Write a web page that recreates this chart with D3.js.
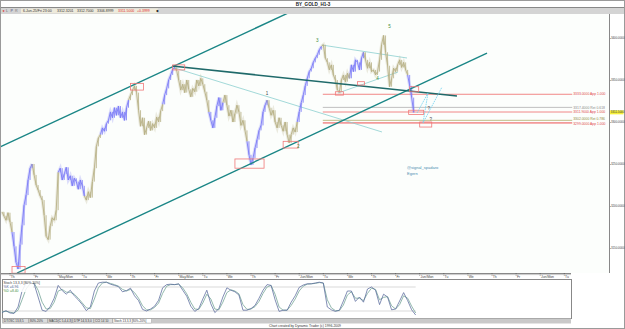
<!DOCTYPE html>
<html>
<head>
<meta charset="utf-8">
<script src="https://cdn.jsdelivr.net/npm/d3@7"></script>
<style>
  body { margin: 0; background: #fff; }
  svg { display: block; font-family: "Liberation Sans", "DejaVu Sans", sans-serif; }
</style>
</head>
<body>
<div id="container"></div>
<script>
const WIDTH = 625, HEIGHT = 329;
const PLOT = { left: 1, right: 609, top: 14, bottom: 273 };
const STOCH = { left: 2, right: 571, top: 279, bottom: 319 };

// trading days counted from Thu 15 May 2025, one price every 2 hours
const FIRST_BAR_DAY = -0.3125, BAR_STEP = 1 / 12;

const dayLabels = ["Th", "Fr", "May/Mon", "Tu", "We", "Th", "Fr", "May/Mon", "Tu", "We", "Th", "Fr",
  "Jun/Mon", "Tu", "We", "Th", "Fr", "Jun/Mon", "Tu", "We", "Th", "Fr", "Jun/Mon", "Tu"];
const priceTicks = [3150, 3200, 3250, 3300, 3350, 3400];

const closes = [
  3193, 3188, 3183, 3192, 3181, 3169, 3152, 3133, 3125, 3154,
  3177, 3201, 3213, 3231, 3245, 3250, 3237, 3225, 3219, 3212,
  3207, 3189, 3164, 3160, 3176, 3186, 3183, 3195, 3240, 3245,
  3231, 3238, 3246, 3231, 3236, 3224, 3233, 3229, 3220, 3231,
  3224, 3212, 3207, 3217, 3210, 3229, 3245, 3271, 3281, 3285,
  3293, 3289, 3298, 3302, 3312, 3305, 3317, 3308, 3319, 3305,
  3312, 3302, 3317, 3326, 3332, 3338, 3343, 3335, 3314, 3295,
  3305, 3285, 3293, 3301, 3290, 3298, 3293, 3306, 3300, 3313,
  3321, 3332, 3340, 3350, 3356, 3363, 3365, 3361, 3350, 3338,
  3345, 3335, 3350, 3339, 3330, 3340, 3336, 3350, 3343, 3352,
  3345, 3336, 3326, 3312, 3302, 3293, 3305, 3319, 3329, 3314,
  3323, 3332, 3320, 3307, 3314, 3300, 3310, 3320, 3312, 3296,
  3302, 3290, 3277, 3261, 3249, 3257, 3269, 3279, 3290, 3296,
  3312, 3320, 3326, 3317, 3308, 3314, 3300, 3293, 3305, 3296,
  3289, 3300, 3285, 3275, 3285, 3293, 3288, 3300, 3312, 3323,
  3332, 3343, 3352, 3360, 3364, 3371, 3376, 3380, 3386, 3390,
  3392, 3376, 3371, 3362, 3368, 3356, 3350, 3338, 3336, 3350,
  3356, 3348, 3358, 3352, 3368, 3360, 3374, 3371, 3362, 3376,
  3383, 3374, 3364, 3371, 3360, 3362, 3356, 3360, 3374, 3392,
  3403, 3383, 3367, 3342, 3352, 3364, 3360, 3368, 3374, 3365,
  3371, 3362, 3356, 3343, 3329, 3311.5
];

// bar indexes where the wave colour switches (tan, blue, tan, ...)
const waveBreaks = [0, 5, 15, 28, 41, 49, 63, 80, 86, 103, 110, 122, 132, 147, 159, 173, 180, 202, 205];
const waveColors = ["#b8b186", "#7c7cf6"];

// stochastic 13,3,3 : one value every 2 bars
const stochK = [
  16, 21, 15, 14, 30, 70, 90, 92, 88, 55, 22, 19, 31, 52, 84, 71, 62, 72, 58, 48,
  36, 21, 30, 70, 90, 92, 92, 87, 84, 81, 68, 71, 77, 58, 46, 24, 20, 25, 32, 47,
  78, 86, 87, 86, 88, 72, 57, 32, 19, 26, 50, 72, 38, 16, 26, 55, 78, 72, 68, 60,
  22, 22, 26, 34, 52, 72, 86, 84, 48, 19, 22, 22, 42, 58, 79, 85, 88, 88, 90, 92,
  90, 30, 23, 19, 22, 45, 70, 70, 44, 55, 42, 75, 80, 72, 36, 62, 55, 23, 25, 45,
  66, 46, 23, 10
];
const stochD = [
  18, 19, 17, 15, 22, 48, 75, 88, 90, 72, 42, 25, 26, 42, 70, 74, 67, 67, 62, 52,
  40, 28, 26, 50, 78, 90, 92, 89, 86, 82, 74, 70, 74, 66, 52, 33, 23, 23, 29, 40,
  64, 82, 86, 86, 87, 78, 63, 42, 25, 24, 40, 62, 50, 25, 23, 42, 66, 73, 70, 63,
  36, 24, 25, 31, 44, 64, 80, 84, 62, 30, 22, 22, 34, 50, 70, 82, 87, 88, 89, 91,
  90, 48, 28, 21, 21, 35, 60, 68, 52, 52, 46, 64, 77, 74, 48, 54, 56, 33, 25, 36,
  58, 52, 32, 15
];
const stochLevels = [80, 20];
const stochReadout = [6.96, 8.40];

// trend lines: [day0, price0, day1, price1]
const channelLines = [[-0.394, 3270.2, 11.556, 3429.7], [0.311, 3120.2, 19.813, 3382.1]];
const baseLine = [6.743, 3366.6, 18.568, 3330.9];
const thinLines = [[6.867, 3364.2, 15.456, 3288.1], [12.967, 3391.6, 16.494, 3376.2], [13.631, 3334.5, 16.12, 3359.5]];
const projection = [[16.909, 3310.7], [17.365, 3334.5], [17.158, 3298.8], [17.946, 3341.6]];

// price boxes: [bar0, bar1, low, high]
const boxes = [
  [5, 11.5, 3120, 3128], [64, 70.5, 3338, 3346], [85, 91, 3362, 3368], [116, 130.5, 3245, 3256],
  [140, 147.5, 3269, 3277], [166, 170, 3332, 3336], [177, 180.5, 3344, 3348], [203, 207.5, 3336, 3342],
  [202.5, 210, 3309, 3314], [208, 214, 3294, 3300]
];

const waveNames = ["1", "2", "3", "4", "5", "?", "?"];
const waveNameBars = [132, 147.5, 157, 187, 193, 212.5, 213.5];
const waveNamePrices = [3332, 3269, 3395, 3350, 3412, 3314, 3301];

const levelPrices = [3333.0, 3317.4, 3311.9, 3302.0, 3299.0];
const levelNotes = ["App 1.000", "Ret 0.618", "App 1.000", "Ret 0.786", "App 1.000"];
const levelKinds = ["app", "ret", "app", "ret2", "app2"];
const LEVEL_START_DAY = 13, LEVEL_END_DAY = 23.35;

const infoTexts = ["6-Jun-25/Fri 23:00", "3312.3201", "3312.7000", "3306.8999", "3311.5000", "+0.3999"];
const tabNames = ["DTOSC 13,8,5", "80%-20%", "MACD(C 5,4,4,3)", "DTP 14,3,3,0", "CCI 14 10", "Stoch 13,3,3 [80%-20%]"];

// ---------- drawing ----------
const svg = d3.select("#container").append("svg")
  .attr("width", WIDTH).attr("height", HEIGHT)
  .style("background-color", "#ffffff");

const xScale = d3.scaleLinear().domain([0, 23]).range([9.5, 563.8]);
const yScale = d3.scaleLinear().domain([3150, 3400]).range([248, 38]);
const sScale = d3.scaleLinear().domain([0, 100]).range([STOCH.bottom, STOCH.top]);
const barX = i => xScale(FIRST_BAR_DAY + i * BAR_STEP);

// header
svg.append("rect").attr("x", 0.5).attr("y", 0.5).attr("width", WIDTH - 1).attr("height", HEIGHT - 1)
  .attr("fill", "none").attr("stroke", "#9a9a9a");
svg.append("text").attr("x", 313).attr("y", 5.6).attr("text-anchor", "middle")
  .attr("font-size", 4.6).attr("font-weight", "bold").attr("fill", "#222").text("BY_GOLD_H1-3");
svg.append("rect").attr("x", 1).attr("y", 7.5).attr("width", WIDTH - 2).attr("height", 6.5).attr("fill", "#d4d4d4");
svg.append("line").attr("x1", 1).attr("x2", WIDTH - 1).attr("y1", 7.5).attr("y2", 7.5).attr("stroke", "#888");
svg.append("rect").attr("x", 21).attr("y", 8.5).attr("width", 137).attr("height", 4.8).attr("fill", "#eeeadb");
[["#d33", 2.5], ["#666", 6], ["#447", 10.5], ["#777", 15]].forEach(([c, x], k) => {
  svg.append("text").attr("x", x).attr("y", 12.4).attr("font-size", 3.6).attr("fill", c).text(["●", "L", "P", "R"][k]);
});
const infoX = d3.scaleOrdinal().domain(d3.range(6)).range([23, 57, 77, 97, 118, 137]);
infoTexts.forEach((t, k) => {
  svg.append("text").attr("x", infoX(k)).attr("y", 12.3).attr("font-size", 3.5)
    .attr("fill", k >= 4 ? "#e03030" : "#333").text(t);
});
svg.append("text").attr("x", 156).attr("y", 12.4).attr("font-size", 3.6).attr("fill", "#222").text("◆");

// main area
svg.append("rect").attr("x", PLOT.left).attr("y", PLOT.top)
  .attr("width", PLOT.right - PLOT.left).attr("height", PLOT.bottom - PLOT.top).attr("fill", "#fcfefc");
svg.append("clipPath").attr("id", "plotClip").append("rect")
  .attr("x", PLOT.left).attr("y", PLOT.top).attr("width", PLOT.right - PLOT.left).attr("height", PLOT.bottom - PLOT.top);
const plot = svg.append("g").attr("clip-path", "url(#plotClip)");

// horizontal levels
const levelColor = { app: "#f07a7a", ret: "#b8b8b8", ret2: "#b8b47a", app2: "#f39a9a" };
const levelWidth = { app: 0.9, ret: 0.9, ret2: 0.9, app2: 1.8 };
plot.selectAll(".level").data(levelPrices).join("line").attr("class", "level")
  .attr("x1", xScale(LEVEL_START_DAY)).attr("x2", xScale(LEVEL_END_DAY))
  .attr("y1", d => yScale(d)).attr("y2", d => yScale(d))
  .attr("stroke", (d, i) => levelColor[levelKinds[i]]).attr("stroke-width", (d, i) => levelWidth[levelKinds[i]]);
plot.selectAll(".levelText").data(levelPrices).join("text").attr("class", "levelText")
  .attr("x", xScale(LEVEL_END_DAY) + 1).attr("y", (d, i) => yScale(d) + (i === 3 ? -0.6 : i === 4 ? 2 : 1.2))
  .attr("font-size", 3.4)
  .attr("fill", (d, i) => levelKinds[i] === "ret" ? "#8a8a8a" : levelKinds[i] === "ret2" ? "#8f8a40" : "#e04848")
  .text((d, i) => `${d.toFixed(4)} ${levelNotes[i]}`);

// thin helper lines
plot.selectAll(".thin").data(thinLines).join("line").attr("class", "thin")
  .attr("x1", d => xScale(d[0])).attr("y1", d => yScale(d[1]))
  .attr("x2", d => xScale(d[2])).attr("y2", d => yScale(d[3]))
  .attr("stroke", "#8ccfcf").attr("stroke-width", 0.8);

// price, coloured by wave
const priceLine = d3.line().x(d => barX(d.i)).y(d => yScale(d.v));
const pts = closes.map((v, i) => ({ i, v }));
for (let k = 0; k < waveBreaks.length - 1; k++) {
  const seg = pts.slice(waveBreaks[k], waveBreaks[k + 1] + 1);
  const col = waveColors[k % 2];
  plot.append("path").datum(seg).attr("d", priceLine).attr("fill", "none")
    .attr("stroke", col).attr("stroke-width", 3).attr("stroke-opacity", 0.25);
  plot.append("path").datum(seg).attr("d", priceLine).attr("fill", "none")
    .attr("stroke", col).attr("stroke-width", 0.9);
}
plot.selectAll(".bar").data(pts.slice(1)).join("line").attr("class", "bar")
  .attr("x1", d => barX(d.i)).attr("x2", d => barX(d.i))
  .attr("y1", d => yScale(Math.max(d.v, closes[d.i - 1]))).attr("y2", d => yScale(Math.min(d.v, closes[d.i - 1])))
  .attr("stroke", d => waveColors[(d3.bisectRight(waveBreaks, d.i - 0.5) - 1) % 2]).attr("stroke-width", 0.8);

// channel and base lines
plot.selectAll(".channel").data(channelLines).join("line").attr("class", "channel")
  .attr("x1", d => xScale(d[0])).attr("y1", d => yScale(d[1]))
  .attr("x2", d => xScale(d[2])).attr("y2", d => yScale(d[3]))
  .attr("stroke", "#1a8686").attr("stroke-width", 1.4);
plot.append("line")
  .attr("x1", xScale(baseLine[0])).attr("y1", yScale(baseLine[1]))
  .attr("x2", xScale(baseLine[2])).attr("y2", yScale(baseLine[3]))
  .attr("stroke", "#1f6a6a").attr("stroke-width", 1.6);

// boxes
plot.selectAll(".box").data(boxes).join("rect").attr("class", "box")
  .attr("x", d => barX(d[0])).attr("width", d => barX(d[1]) - barX(d[0]))
  .attr("y", d => yScale(d[3])).attr("height", d => yScale(d[2]) - yScale(d[3]))
  .attr("fill", "none").attr("stroke", "#f07878").attr("stroke-width", 0.8);

// projection zigzag
plot.append("path").datum(projection)
  .attr("d", d3.line().x(d => xScale(d[0])).y(d => yScale(d[1])))
  .attr("fill", "none").attr("stroke", "#6cd2f0").attr("stroke-width", 0.8).attr("stroke-dasharray", "1.6,0.8");

// wave names
plot.selectAll(".wave").data(waveNames).join("text").attr("class", "wave")
  .attr("x", (d, i) => barX(waveNameBars[i])).attr("y", (d, i) => yScale(waveNamePrices[i]))
  .attr("text-anchor", "middle").attr("font-size", 4.6)
  .attr("fill", (d, i) => d === "?" ? "#444" : (i === 0 ? "#444" : "#3f8f3f")).text(d => d);

// watermark
plot.append("text").attr("x", 407).attr("y", 169).attr("font-size", 4).attr("fill", "#4a8db0").text("@signal_spadaro");
plot.append("text").attr("x", 407).attr("y", 174.5).attr("font-size", 4).attr("fill", "#4a8db0").text("Egern");

// right price axis
const yAxis = svg.append("g").attr("transform", `translate(${PLOT.right},0)`)
  .call(d3.axisRight(yScale).tickValues(priceTicks).tickFormat(d3.format(".4f")).tickSize(1.5).tickPadding(0.4));
yAxis.select(".domain").remove();
yAxis.selectAll("text").attr("font-size", 2.9).attr("fill", "#444");
yAxis.selectAll("line").attr("stroke", "#666");
svg.append("line").attr("x1", PLOT.right + 0.5).attr("x2", PLOT.right + 0.5)
  .attr("y1", PLOT.top).attr("y2", PLOT.bottom).attr("stroke", "#888");
const last = closes[closes.length - 1];
svg.append("rect").attr("x", PLOT.right + 1).attr("y", yScale(last) - 2).attr("width", 13.5).attr("height", 4).attr("fill", "#f6f03a");
svg.append("text").attr("x", PLOT.right + 1.8).attr("y", yScale(last) + 1.1).attr("font-size", 2.9).attr("fill", "#333").text(last.toFixed(4));

// date axis
const xAxis = svg.append("g").attr("transform", `translate(0,${PLOT.bottom})`)
  .call(d3.axisBottom(xScale).tickValues(d3.range(0, 24)).tickFormat((d, i) => dayLabels[i]).tickSize(2.5).tickPadding(0.5));
xAxis.select(".domain").attr("d", `M${PLOT.left},0.5H${STOCH.right}`).attr("stroke", "#888");
xAxis.selectAll("text").attr("font-size", 3.4).attr("fill", "#444").attr("text-anchor", "start").attr("dx", 0.8);
xAxis.selectAll("line").attr("stroke", "#666");
svg.append("line").attr("x1", PLOT.left).attr("x2", STOCH.right).attr("y1", PLOT.bottom + 1.6).attr("y2", PLOT.bottom + 1.6)
  .attr("stroke", "#c8c8c8");

// stochastic panel
svg.append("rect").attr("x", STOCH.left + 0.5).attr("y", STOCH.top + 0.5)
  .attr("width", STOCH.right - STOCH.left).attr("height", STOCH.bottom - STOCH.top - 1)
  .attr("fill", "#fff").attr("stroke", "#888");
svg.selectAll(".slevel").data(stochLevels).join("line").attr("class", "slevel")
  .attr("x1", STOCH.left + 1).attr("x2", barX(2 * (stochK.length - 1)))
  .attr("y1", d => sScale(d)).attr("y2", d => sScale(d)).attr("stroke", "#cfcfcf").attr("stroke-width", 0.8);
const stochLine = d3.line().x((d, j) => barX(2 * j)).y(d => sScale(d));
svg.append("path").datum(stochD).attr("d", stochLine).attr("fill", "none").attr("stroke", "#86b0a4").attr("stroke-width", 0.9);
svg.append("path").datum(stochK).attr("d", stochLine).attr("fill", "none").attr("stroke", "#5a6a9c").attr("stroke-width", 0.75);
svg.append("rect").attr("x", 3).attr("y", 280).attr("width", 30).attr("height", 12).attr("fill", "#fff").attr("fill-opacity", 0.85);
svg.append("text").attr("x", 3.5).attr("y", 283.5).attr("font-size", 3.4).attr("fill", "#444").text("Stoch 13,3,3 [80%-20%]");
svg.append("text").attr("x", 3.5).attr("y", 287.5).attr("font-size", 3.4).attr("fill", "#4e5d92").text(`%K =${stochReadout[0].toFixed(2)}`);
svg.append("text").attr("x", 3.5).attr("y", 291.5).attr("font-size", 3.4).attr("fill", "#3f8f3f").text(`%D =${stochReadout[1].toFixed(2)}`);

// tabs
svg.append("rect").attr("x", STOCH.left).attr("y", 318.5).attr("width", STOCH.right - STOCH.left).attr("height", 5).attr("fill", "#c9c9c9");
const tabX = [3, 29, 48, 73, 94, 113, 152];
tabNames.forEach((t, k) => {
  const sel = k === tabNames.length - 1;
  svg.append("rect").attr("x", tabX[k]).attr("y", 318.8).attr("width", tabX[k + 1] - tabX[k] - 0.6).attr("height", 4.2)
    .attr("fill", sel ? "#ffffff" : "#dcdcdc").attr("stroke", "#999").attr("stroke-width", 0.4);
  svg.append("text").attr("x", tabX[k] + 1).attr("y", 322.2).attr("font-size", 3).attr("fill", "#333").text(t);
});
svg.append("text").attr("x", 305).attr("y", 327.4).attr("text-anchor", "middle").attr("font-size", 3.4).attr("fill", "#333")
  .text("Chart created by Dynamic Trader (c) 1996-2009");
</script>
</body>
</html>
